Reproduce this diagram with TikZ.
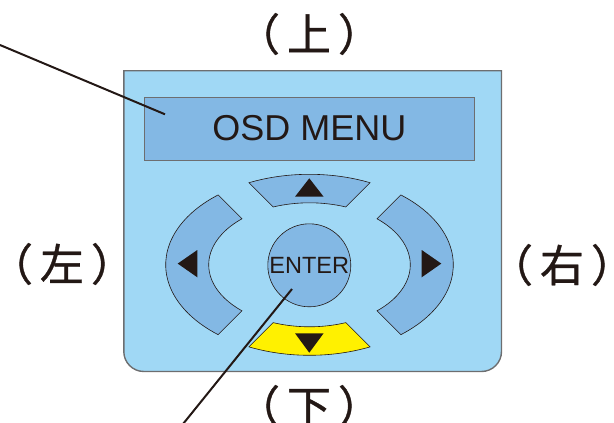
\documentclass[tikz,border=0pt]{standalone}
\usepackage{fontspec}
\setmainfont{Liberation Sans}
\newfontfamily\cjk[FakeBold=0.8,RawFeature=+halt]{Noto Sans CJK JP}
\usetikzlibrary{calc}
\definecolor{panelfill}{HTML}{A0D8F5}
\definecolor{btnfill}{HTML}{83B8E4}
\definecolor{yel}{HTML}{FFF100}
\definecolor{ink}{HTML}{231815}
\definecolor{edgegray}{HTML}{6D6E70}
\tikzset{
  panelstyle/.style={fill=panelfill,draw=edgegray,line width=1.4pt},
  osdstyle/.style={draw=edgegray,line width=1pt,fill=btnfill,minimum width=330pt,minimum height=63pt,inner sep=0pt,text=ink,font=\fontsize{36}{40}\selectfont},
  btnstyle/.style={fill=btnfill,draw=ink,line width=0.6pt},
  yelstyle/.style={fill=yel,draw=ink,line width=0.6pt},
  tri/.style={fill=ink,draw=none},
  enterstyle/.style={circle,fill=btnfill,draw=ink,line width=0.6pt,minimum size=83pt,inner sep=0pt,text=ink,font=\fontsize{23.5}{26}\selectfont},
  leader/.style={draw=ink,line width=2pt},
  lbl/.style={text=ink,font=\cjk\fontsize{44}{48}\selectfont,inner sep=0pt}
}
\newcommand{\paren}[1]{（\hspace{7pt}#1\hspace{7pt}）}
\begin{document}
\begin{tikzpicture}[x=1pt,y=1pt]
\useasboundingbox (0,0) rectangle (614,-423);
% panel
\path[panelstyle] (123.8,-70.7) -- (123.8,-351.5) arc[start angle=180,end angle=270,radius=20pt] -- (481.5,-371.5) arc[start angle=270,end angle=360,radius=20pt] -- (501.5,-70.7) -- cycle;
% OSD display
\node[osdstyle] (osd) at (309.3,-128.5) {OSD MENU};
% ring buttons
\coordinate (C) at (309.5,-264.8);
\begin{scope}[shift={(C)}]
\path[btnstyle] (129.45:143.8pt and 90.5pt) arc[start angle=129.45,end angle=230.55,x radius=143.8pt,y radius=90.5pt]
  -- (227.94:100.8pt and 62pt) arc[start angle=227.94,end angle=132.06,x radius=100.8pt,y radius=62pt] -- cycle;
\path[btnstyle] (65.09:143.8pt and 90.5pt) arc[start angle=65.09,end angle=114.91,x radius=143.8pt,y radius=90.5pt]
  -- (111.12:100.8pt and 62pt) arc[start angle=111.12,end angle=68.88,x radius=100.8pt,y radius=62pt] -- cycle;
\path[btnstyle] (-50.55:143.8pt and 90.5pt) arc[start angle=-50.55,end angle=50.55,x radius=143.8pt,y radius=90.5pt]
  -- (47.94:100.8pt and 62pt) arc[start angle=47.94,end angle=-47.94,x radius=100.8pt,y radius=62pt] -- cycle;
\path[yelstyle] (245.09:143.8pt and 90.5pt) arc[start angle=245.09,end angle=294.91,x radius=143.8pt,y radius=90.5pt]
  -- (291.12:100.8pt and 62pt) arc[start angle=291.12,end angle=248.88,x radius=100.8pt,y radius=62pt] -- cycle;
\end{scope}
% arrows
\path[tri] (295,-196.7) -- (323.6,-196.7) -- (309.3,-178.3) -- cycle;
\path[tri] (295,-333.3) -- (323.6,-333.3) -- (309.3,-352.7) -- cycle;
\path[tri] (177.7,-263.6) -- (197.3,-250) -- (197.3,-277.3) -- cycle;
\path[tri] (441.3,-263.6) -- (421.7,-250) -- (421.7,-277.3) -- cycle;
% enter
\node[enterstyle] (enter) at (309.3,-265.3) {ENTER};
% leaders
\coordinate (l1) at (0,-45);
\coordinate (osdtip) at (165,-114.3);
\coordinate (entertip) at (292,-289);
\coordinate (l2) at (183,-424);
\draw[leader] (l1) -- (osdtip);
\draw[leader] (entertip) -- (l2);
% labels
\node[lbl] (up) at (309,-34) {\paren{上}};
\node[lbl] (left) at (62,-264) {\paren{左}};
\node[lbl] (right) at (562,-265) {\paren{右}};
\node[lbl] (down) at (309,-406) {\paren{下}};
\end{tikzpicture}
\end{document}
